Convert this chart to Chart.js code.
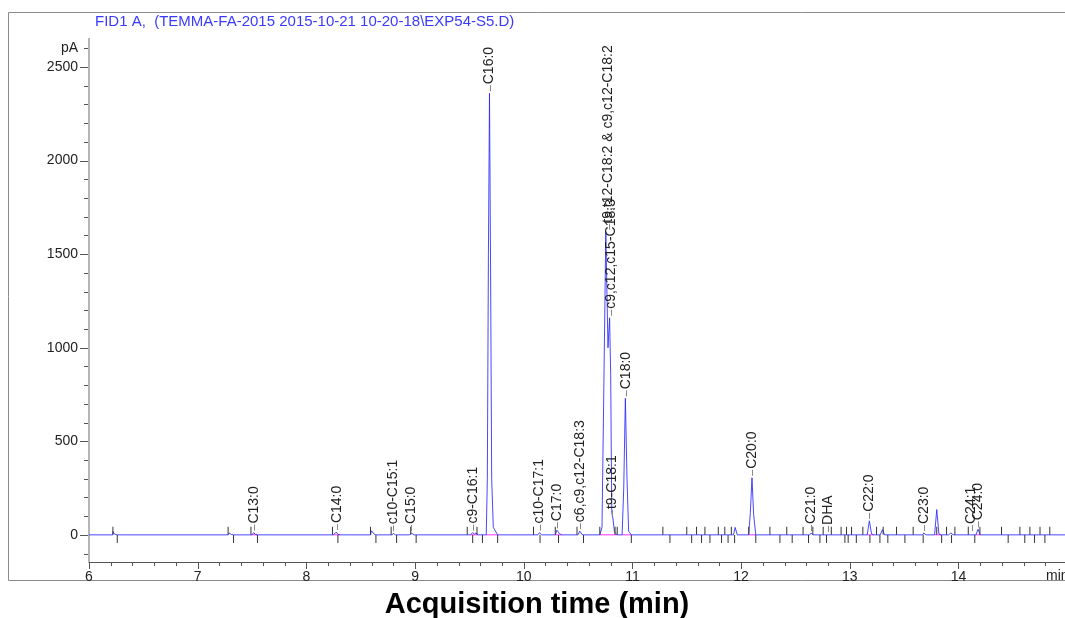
<!DOCTYPE html>
<html><head><meta charset="utf-8">
<script src="https://cdn.jsdelivr.net/npm/chart.js@4.4.0/dist/chart.umd.min.js"></script>
<style>html,body{margin:0;padding:0;background:#fff;overflow:hidden}#wrap{width:1065px;height:618px;position:relative}</style>
</head><body><div id="wrap"><canvas id="c" width="1065" height="618"></canvas></div>
<script>
// ---- data ----
const chartTitle = "FID1 A,  (TEMMA-FA-2015 2015-10-21 10-20-18\\EXP54-S5.D)";
const xAxisTitle = "Acquisition time (min)";
const xTickLabels = [6, 7, 8, 9, 10, 11, 12, 13, 14];
const yTickLabels = [0, 500, 1000, 1500, 2000, 2500];
const yUnitLabel = "pA";
const xUnitLabel = "min";

const traceTimes = [6.00,6.215,6.22,6.235,6.26,7.28,7.29,7.31,7.33,7.50,7.515,7.53,7.55,8.25,8.275,8.29,8.31,8.59,8.60,8.62,8.64,8.79,8.80,8.82,8.95,8.965,8.99,9.51,9.53,9.545,9.56,9.58,
 9.655,9.665,9.675,9.685,9.695,9.705,9.72,9.76,10.13,10.145,10.165,10.29,10.305,10.33,10.35,10.50,10.515,10.54,
 10.70,10.72,10.735,10.755,10.775,10.79,10.80,10.81,10.82,10.835,10.86,10.905,10.92,10.935,10.95,10.965,10.99,
 11.93,11.945,11.965,12.07,12.085,12.10,12.115,12.135,12.63,12.645,12.66,13.16,13.18,13.20,13.22,13.28,13.30,13.32,
 13.67,13.68,13.70,13.78,13.80,13.82,13.84,13.91,13.93,13.95,14.16,14.18,14.20,14.98];
const traceValues = [0,0,18,4,0,0,10,2,0,0,12,3,0,0,15,3,0,0,22,6,0,0,8,0,0,10,0,0,12,4,10,0,
 0,300,1500,2360,1400,300,40,0,0,12,0,0,25,5,0,0,20,0,
 0,40,700,1620,1000,1160,850,120,90,15,0,0,250,730,300,20,0,
 0,40,0,0,120,305,110,0,0,10,0,0,75,5,0,0,28,0,
 0,10,0,0,135,5,0,0,10,0,0,30,0,0];

const peakNames = ["C13:0","C14:0","c10-C15:1","C15:0","c9-C16:1","C16:0","c10-C17:1","C17:0","c6,c9,c12-C18:3",
 "t9,t12-C18:2 & c9,c12-C18:2","c9,c12,c15-C18:3","t9-C18:1","C18:0","C20:0","C21:0","DHA","C22:0","C23:0","C24:1","C24:0"];
const peakTimes = [7.515,8.28,8.80,8.965,9.53,9.685,10.145,10.305,10.515,10.78,10.80,10.815,10.94,12.10,12.645,12.80,13.18,13.68,14.12,14.18];
const peakHeights = [12,15,8,10,12,2360,12,25,20,1620,1160,90,730,305,10,5,75,10,10,30];

const markerTimes = [6.22,6.26,7.28,7.33,7.49,7.55,8.24,8.29,8.59,8.64,8.78,8.83,8.96,9.01,9.48,9.53,9.57,9.62,9.76,10.09,10.15,10.29,10.32,10.49,10.55,10.70,10.84,10.86,10.99,
 11.28,11.345,11.50,11.545,11.59,11.636,11.667,11.713,11.79,11.82,11.85,11.88,11.91,11.94,12.07,12.135,12.265,12.357,12.42,12.47,12.57,12.62,12.66,12.725,12.755,12.786,12.83,
 12.92,12.955,12.97,12.985,13.016,13.06,13.12,13.185,13.246,13.277,13.307,13.35,13.43,13.507,13.583,13.675,13.80,13.845,13.89,13.936,13.967,14.09,14.15,14.197,
 14.396,14.457,14.565,14.61,14.657,14.70,14.75,14.795,14.84];
const markerSides = [1,-1,1,-1,1,-1,1,-1,1,-1,1,-1,1,-1,1,-1,1,-1,-1,1,-1,1,-1,1,-1,1,1,1,-1,
 1,-1,1,-1,1,-1,1,-1,1,-1,1,-1,1,-1,1,-1,1,-1,1,-1,1,-1,1,-1,1,-1,1,
 1,-1,1,-1,1,-1,1,-1,1,-1,1,-1,1,-1,1,-1,1,-1,1,-1,1,1,-1,1,
 1,-1,1,-1,1,-1,1,-1,1];

const baseSegStart = [7.50,8.25,9.51,9.655,10.29,10.70,10.905,12.07,13.16,13.78,14.16];
const baseSegEnd   = [7.55,8.31,9.58,9.76,10.35,10.86,10.99,12.135,13.22,13.84,14.20];

// ---- build datasets ----
const FONT = "'Liberation Sans', Arial, sans-serif";
const tracePts = traceTimes.map((t,i)=>({x:t,y:traceValues[i]}));
const markerPts = markerTimes.map((t,i)=>({x:t,y:markerSides[i]*22}));
const basePts = [];
baseSegStart.forEach((s,i)=>{ basePts.push({x:s,y:0},{x:baseSegEnd[i],y:0},{x:baseSegEnd[i]+0.0001,y:null}); });

const decor = {
  id:'decor',
  beforeDraw(chart){
    const ctx = chart.ctx;
    ctx.save();
    ctx.fillStyle='#fff'; ctx.fillRect(0,0,chart.width,chart.height);
    ctx.strokeStyle='#8a8a8a'; ctx.lineWidth=1;
    ctx.beginPath();
    ctx.moveTo(1070,12.5); ctx.lineTo(8.5,12.5); ctx.lineTo(8.5,580.5); ctx.lineTo(1070,580.5);
    ctx.stroke();
    ctx.font='15px '+FONT; ctx.fillStyle='#3a3aff'; ctx.textBaseline='middle'; ctx.textAlign='left';
    ctx.fillText(chartTitle, 95, 22);
    ctx.restore();
  },
  afterDraw(chart){
    const {ctx, scales:{x,y}} = chart;
    ctx.save();
    // y tick marks
    ctx.strokeStyle='#555'; ctx.lineWidth=1;
    const ax = x.left;
    for(let v=-100; v<=2600; v+=100){
      const py = Math.round(y.getPixelForValue(v))+0.5;
      const len = yTickLabels.includes(v) ? 9 : 5;
      ctx.beginPath(); ctx.moveTo(ax-len, py); ctx.lineTo(ax-1, py); ctx.stroke();
    }
    // x tick marks
    const ay = y.bottom;
    for(let k=0; k<=45; k++){
      const t = 6 + k*0.2;
      const px = Math.round(x.getPixelForValue(t))+0.5;
      const len = (k%5===0) ? 7 : 4;
      ctx.beginPath(); ctx.moveTo(px, ay); ctx.lineTo(px, ay+len); ctx.stroke();
    }
    ctx.font='14px '+FONT; ctx.fillStyle='#222'; ctx.textBaseline='middle'; ctx.textAlign='left';
    ctx.fillText(xUnitLabel, 1046, ay+14);
    ctx.textAlign='right';
    ctx.fillText(yUnitLabel, ax-11, y.getPixelForValue(2600));
    // axis title, centred on the frame
    ctx.font='bold 29px '+FONT; ctx.fillStyle='#000'; ctx.textAlign='center';
    ctx.fillText(xAxisTitle, 537, 605);
    // peak labels
    ctx.font='14px '+FONT;
    peakNames.forEach((n,i)=>{
      const px = x.getPixelForValue(peakTimes[i]);
      const py = y.getPixelForValue(peakHeights[i]);
      ctx.strokeStyle='#888';
      ctx.beginPath(); ctx.moveTo(Math.round(px)+0.5, py-2); ctx.lineTo(Math.round(px)+0.5, py-8); ctx.stroke();
      ctx.save(); ctx.translate(px, py-9); ctx.rotate(-Math.PI/2);
      ctx.textAlign='left'; ctx.textBaseline='middle'; ctx.fillStyle='#222';
      ctx.fillText(n,0,0); ctx.restore();
    });
    ctx.restore();
  }
};

new Chart(document.getElementById('c'), {
  type:'line',
  data:{datasets:[
    {data:tracePts, borderColor:'rgba(40,40,255,0.85)', borderWidth:1, pointRadius:0, tension:0, order:2},
    {data:basePts, borderColor:'rgba(255,80,255,0.8)', borderWidth:1.5, pointRadius:0, spanGaps:false, order:3},
    {type:'scatter', data:markerPts, pointStyle:'line', rotation:90, radius:4, borderColor:'#333', borderWidth:1, order:1}
  ]},
  options:{
    responsive:false, animation:false, parsing:true,
    layout:{autoPadding:false, padding:{top:39,left:0,right:0,bottom:0}},
    plugins:{legend:{display:false}, tooltip:{enabled:false}, title:{display:false}},
    scales:{
      x:{type:'linear', min:6, max:14.98,
        afterBuildTicks(s){ s.ticks = xTickLabels.map(v=>({value:v})); },
        afterFit(s){ s.height = 56; s.paddingLeft = 0; s.paddingRight = 0; },
        grid:{display:false, drawTicks:false},
        border:{display:true, color:'#555', width:1},
        ticks:{padding:7, color:'#222', font:{family:FONT, size:14}, maxRotation:0, autoSkip:false, callback:v=>String(v)},
        title:{display:false}
      },
      y:{type:'linear', min:-145, max:2650,
        afterBuildTicks(s){ s.ticks = yTickLabels.map(v=>({value:v})); },
        afterFit(s){ s.width = 89; s.paddingTop = 0; s.paddingBottom = 0; },
        grid:{display:false, drawTicks:false},
        border:{display:true, color:'#b5b5b5', width:2},
        ticks:{padding:11, color:'#222', font:{family:FONT, size:14}, callback:v=>String(v)}
      }
    }
  },
  plugins:[decor]
});
</script></body></html>
